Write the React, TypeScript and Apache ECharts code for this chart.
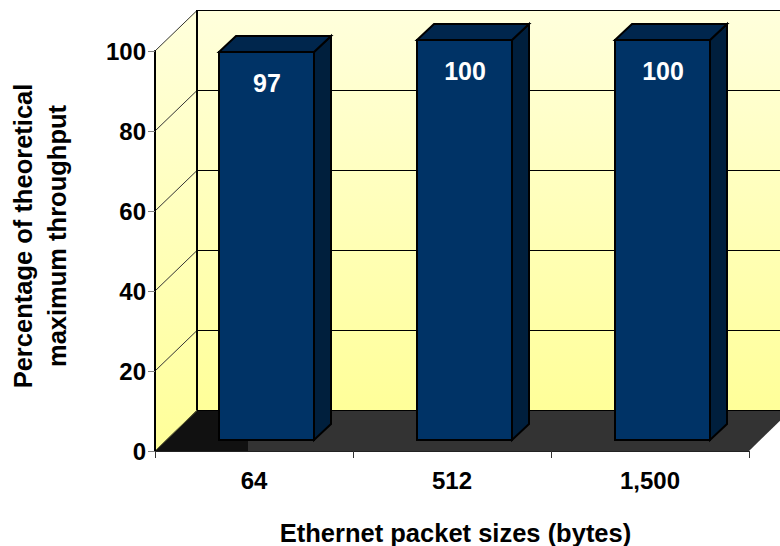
import React, { useEffect, useRef } from "react";
import * as echarts from "echarts";

const categories = ["64", "512", "1,500"];
const throughput = [97, 100, 100];
const yMin = 0;
const yMax = 100;
const yStep = 20;
const wallLevels = [0, 20, 40, 60, 80, 100];

const FONT = '"Liberation Sans", Arial, sans-serif';
const DEPTH_X = 42;
const DEPTH_Y = 41;
const BAR_WIDTH = 95;
const BAR_SHIFT_X = 12.5;
const BAR_SHIFT_Y = 11;
const BAR_DEPTH_X = 17;
const BAR_DEPTH_Y = 16;

const poly = (points: number[][], style: any, z2 = 0) => ({
  type: "polygon",
  z2,
  shape: { points },
  style,
});

const seg = (a: number[], b: number[], stroke: string, lineWidth: number, z2 = 1) => ({
  type: "line",
  z2,
  shape: { x1: a[0], y1: a[1], x2: b[0], y2: b[1] },
  style: { stroke, lineWidth },
});

// Back wall, side wall, floor and the gridlines that wrap around them.
const renderRoom = (params: any, api: any) => {
  const cs = params.coordSys;
  const left = cs.x;
  const right = cs.x + cs.width;
  const top = cs.y;
  const bottom = cs.y + cs.height;
  const wallFill = new echarts.graphic.LinearGradient(0, 0, 0, 1, [
    { offset: 0, color: "#FFFFDC" },
    { offset: 1, color: "#FFFF99" },
  ]);
  const children: any[] = [
    poly(
      [
        [left + DEPTH_X, top - DEPTH_Y],
        [right + DEPTH_X, top - DEPTH_Y],
        [right + DEPTH_X, bottom - DEPTH_Y],
        [left + DEPTH_X, bottom - DEPTH_Y],
      ],
      { fill: wallFill }
    ),
    poly(
      [
        [left, top],
        [left + DEPTH_X, top - DEPTH_Y],
        [left + DEPTH_X, bottom - DEPTH_Y],
        [left, bottom],
      ],
      { fill: wallFill }
    ),
    poly(
      [
        [left, bottom],
        [left + DEPTH_X, bottom - DEPTH_Y],
        [right + DEPTH_X, bottom - DEPTH_Y],
        [right, bottom],
      ],
      { fill: "#333333" },
      1
    ),
    poly(
      [
        [left, bottom],
        [left + DEPTH_X, bottom - DEPTH_Y],
        [219, bottom - DEPTH_Y],
        [219, bottom - 10],
        [248, bottom - 10],
        [248, bottom],
      ],
      { fill: "#111111" },
      2
    ),
  ];
  wallLevels.forEach((level) => {
    const y = api.coord([0, level])[1];
    const backY = y - DEPTH_Y + 0.5;
    children.push(seg([left + DEPTH_X, backY], [right + DEPTH_X, backY], "#000000", 1, 3));
    children.push(seg([left, y], [left + DEPTH_X, backY], level === 0 ? "#666633" : "#333333", 1, 3));
  });
  children.push(seg([left + DEPTH_X, top - DEPTH_Y], [left + DEPTH_X, bottom - DEPTH_Y], "#000000", 2, 3));
  return { type: "group", children };
};

// A bar as an extruded box standing on the floor, with its value printed on the front.
const renderBox = (_params: any, api: any) => {
  const value = api.value(1);
  const [cx] = api.coord([api.value(0), 0]);
  const baseY = api.coord([api.value(0), 0])[1] - BAR_SHIFT_Y;
  const topY = api.coord([api.value(0), value])[1] - BAR_SHIFT_Y;
  const x0 = cx + BAR_SHIFT_X - BAR_WIDTH / 2;
  const x1 = x0 + BAR_WIDTH;
  const edge = { stroke: "#000000", lineWidth: 2, lineJoin: "miter" };
  return {
    type: "group",
    children: [
      poly(
        [
          [x1, topY],
          [x1 + BAR_DEPTH_X, topY - BAR_DEPTH_Y],
          [x1 + BAR_DEPTH_X, baseY - BAR_DEPTH_Y],
          [x1, baseY],
        ],
        { fill: "#001F3D", ...edge }
      ),
      poly(
        [
          [x0, topY],
          [x0 + BAR_DEPTH_X, topY - BAR_DEPTH_Y],
          [x1 + BAR_DEPTH_X, topY - BAR_DEPTH_Y],
          [x1, topY],
        ],
        { fill: "#00264D", ...edge }
      ),
      {
        type: "rect",
        shape: { x: x0, y: topY, width: BAR_WIDTH, height: baseY - topY },
        style: { fill: "#003366", ...edge },
      },
      {
        type: "text",
        z2: 5,
        style: {
          x: (x0 + x1) / 2 + 0.5,
          y: topY + 31,
          text: String(value),
          fill: "#FFFFFF",
          font: `bold 25px ${FONT}`,
          align: "center",
          verticalAlign: "middle",
        },
      },
    ],
  };
};

export default function App() {
  const ref = useRef<HTMLDivElement>(null);

  useEffect(() => {
    const chart = echarts.init(ref.current!, undefined, { renderer: "svg" });
    chart.setOption({
      animation: false,
      backgroundColor: "#FFFFFF",
      textStyle: { fontFamily: FONT },
      grid: { left: 155, top: 51, width: 594, height: 400, containLabel: false, outerBoundsMode: "none" },
      xAxis: {
        type: "category",
        data: categories,
        z: 5,
        boundaryGap: true,
        axisLine: { lineStyle: { color: "#222222", width: 1 } },
        axisTick: { show: true, alignWithLabel: false, length: 7, lineStyle: { color: "#333333" } },
        axisLabel: { color: "#000000", fontWeight: "bold", fontSize: 24, fontFamily: FONT, margin: 17 },
        name: "Ethernet packet sizes (bytes)",
        nameLocation: "middle",
        nameGap: 69,
        nameTextStyle: {
          color: "#000000",
          fontWeight: "bold",
          fontSize: 25.5,
          fontFamily: FONT,
          padding: [0, 0, 0, 7],
        },
      },
      yAxis: {
        type: "value",
        min: yMin,
        max: yMax,
        interval: yStep,
        z: 5,
        splitLine: { show: false },
        axisLine: { show: true, lineStyle: { color: "#000000", width: 2 } },
        axisTick: { show: true, length: 7, lineStyle: { color: "#808080" } },
        axisLabel: { color: "#000000", fontWeight: "bold", fontSize: 24, fontFamily: FONT, margin: 9 },
        name: "Percentage of theoretical\nmaximum throughput",
        nameLocation: "middle",
        nameGap: 81.5,
        nameRotate: 90,
        nameTextStyle: {
          color: "#000000",
          fontWeight: "bold",
          fontSize: 25.5,
          lineHeight: 34,
          fontFamily: FONT,
          padding: [0, 0, 0, 30],
        },
      },
      series: [
        {
          type: "custom",
          coordinateSystem: "cartesian2d",
          renderItem: renderRoom,
          data: [[0, 0]],
          z: 1,
          silent: true,
        },
        {
          type: "custom",
          coordinateSystem: "cartesian2d",
          renderItem: renderBox,
          data: throughput.map((v, i) => [i, v]),
          encode: { x: 0, y: 1 },
          z: 2,
          silent: true,
        },
      ],
    });
    return () => chart.dispose();
  }, []);

  return <div ref={ref} style={{ position: "absolute", left: 0, top: 0, width: 780, height: 546 }} />;
}
